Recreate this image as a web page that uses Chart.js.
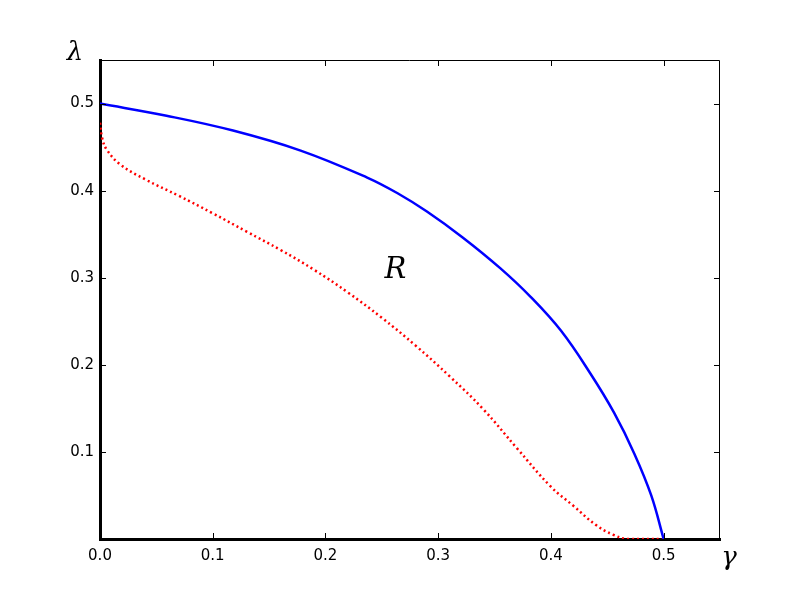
<!DOCTYPE html>
<html>
<head>
<meta charset="utf-8">
<script src="https://cdn.jsdelivr.net/npm/chart.js@4/dist/chart.umd.min.js"></script>
<style>
  body { margin: 0; background: #fff; }
  #wrap { width: 800px; height: 600px; position: relative; }
</style>
</head>
<body>
<div id="wrap"><canvas id="regionChart"></canvas></div>
<script>
// upper boundary (solid blue)
const blueGamma  = [0, 0.059, 0.118, 0.178, 0.237, 0.264, 0.290, 0.322, 0.355, 0.382, 0.409, 0.435, 0.456, 0.474, 0.489, 0.5];
const blueLambda = [0.5, 0.486, 0.469, 0.446, 0.415, 0.397, 0.376, 0.346, 0.311, 0.278, 0.239, 0.190, 0.145, 0.098, 0.050, 0];

// lower boundary (dotted red)
const redGamma  = [0, 0.002, 0.006, 0.018, 0.04, 0.07, 0.1, 0.13, 0.16, 0.19, 0.22, 0.25, 0.28, 0.31, 0.34, 0.37, 0.4, 0.42, 0.44, 0.455, 0.468, 0.5];
const redLambda = [0.478, 0.46, 0.447, 0.430, 0.413, 0.394, 0.374, 0.353, 0.332, 0.309, 0.283, 0.254, 0.222, 0.187, 0.149, 0.104, 0.060, 0.038, 0.016, 0.005, 0, 0];

const xTicks = [0, 0.1, 0.2, 0.3, 0.4, 0.5];
const yTicks = [0.1, 0.2, 0.3, 0.4, 0.5];

const toPoints = (xs, ys) => xs.map((x, i) => ({ x: x, y: ys[i] }));

// inward ticks, thin top/right frame and the math labels
const framePlugin = {
  id: 'frame',
  afterDraw(chart) {
    const c = chart.ctx;
    const a = chart.chartArea;
    const xs = chart.scales.x, ys = chart.scales.y;
    c.save();
    c.strokeStyle = '#000';
    c.lineWidth = 1;
    c.beginPath();
    c.moveTo(a.left, a.top + 0.5);
    c.lineTo(a.right - 0.5, a.top + 0.5);
    c.lineTo(a.right - 0.5, a.bottom);
    c.stroke();
    c.beginPath();
    xTicks.forEach(v => {
      const px = Math.round(xs.getPixelForValue(v)) + 0.5;
      c.moveTo(px, a.bottom); c.lineTo(px, a.bottom - 6);
      c.moveTo(px, a.top); c.lineTo(px, a.top + 6);
    });
    yTicks.forEach(v => {
      const py = Math.round(ys.getPixelForValue(v)) + 0.5;
      c.moveTo(a.left, py); c.lineTo(a.left + 6, py);
      c.moveTo(a.right, py); c.lineTo(a.right - 6, py);
    });
    c.stroke();

    c.fillStyle = '#000';
    c.font = 'italic 26px "DejaVu Serif"';
    c.textAlign = 'center';
    c.textBaseline = 'alphabetic';
    c.fillText('λ', 75, 60);
    c.fillText('γ', 729, 565);
    c.font = 'italic 29px "DejaVu Serif"';
    c.fillText('R', xs.getPixelForValue(0.262), ys.getPixelForValue(0.3));
    c.restore();
  }
};

const ctx = document.getElementById('regionChart').getContext('2d');

new Chart(ctx, {
  type: 'line',
  data: {
    datasets: [
      {
        label: 'upper',
        data: toPoints(blueGamma, blueLambda),
        borderColor: '#0000ff',
        borderWidth: 2.5,
        pointRadius: 0,
        tension: 0.4,
        fill: false,
      },
      {
        label: 'lower',
        data: toPoints(redGamma, redLambda),
        borderColor: '#ff0000',
        borderWidth: 2.5,
        borderDash: [2, 3],
        pointRadius: 0,
        tension: 0.4,
        fill: false,
      },
    ],
  },
  options: {
    responsive: true,
    maintainAspectRatio: false,
    animation: false,
    layout: {
      padding: { top: 60, right: 80, left: 0, bottom: 0 },
    },
    plugins: {
      legend: { display: false },
      tooltip: { enabled: false },
    },
    scales: {
      x: {
        type: 'linear',
        min: 0,
        max: 0.55,
        afterFit: (s) => { s.height = 61; },
        afterBuildTicks: (s) => { s.ticks = xTicks.map(v => ({ value: v })); },
        grid: { display: false, drawTicks: false },
        border: { display: true, color: '#000', width: 3 },
        ticks: {
          color: '#000',
          padding: 8,
          font: { family: 'DejaVu Sans', size: 15 },
          maxRotation: 0,
          callback: (v) => v.toFixed(1),
        },
      },
      y: {
        type: 'linear',
        min: 0,
        max: 0.55,
        afterFit: (s) => { s.width = 100; },
        afterBuildTicks: (s) => { s.ticks = yTicks.map(v => ({ value: v })); },
        grid: { display: false, drawTicks: false },
        border: { display: true, color: '#000', width: 3 },
        ticks: {
          color: '#000',
          padding: 6,
          font: { family: 'DejaVu Sans', size: 15 },
          callback: (v) => v.toFixed(1),
        },
      },
    },
  },
  plugins: [framePlugin],
});
</script>
</body>
</html>
